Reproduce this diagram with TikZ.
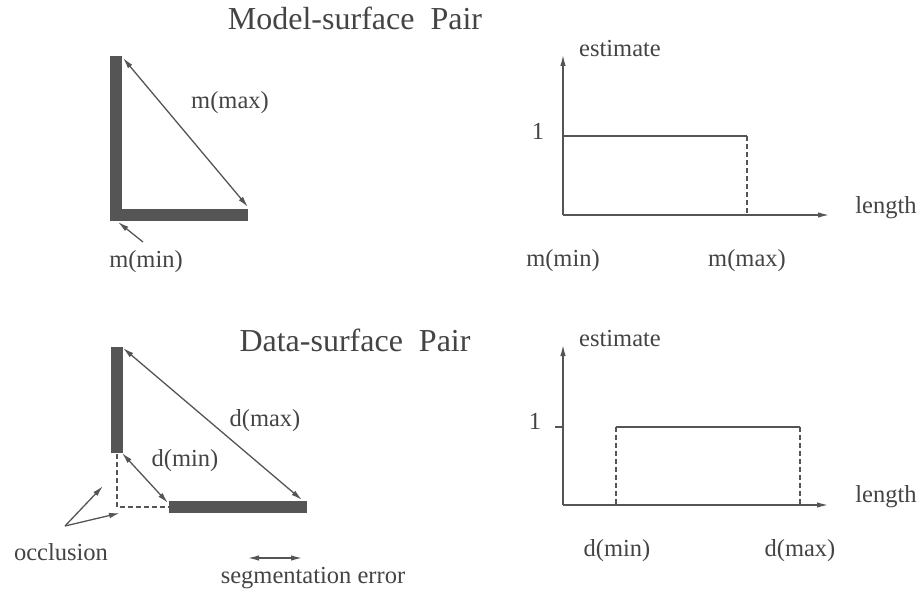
\documentclass[tikz,border=0pt]{standalone}
\usepackage{fontspec}
\setmainfont{Liberation Serif}
\usetikzlibrary{arrows.meta}
\definecolor{ink}{HTML}{555555}
\definecolor{txt}{HTML}{444444}
\tikzset{
  lbl/.style={inner sep=0pt, text=txt, font=\fontsize{24.5}{26}\selectfont},
  ttl/.style={inner sep=0pt, text=txt, font=\fontsize{32}{34}\selectfont},
  bar/.style={fill=ink, draw=none},
  thin/.style={draw=ink, line width=1.3pt},
  dsh/.style={draw=ink, line width=1.2pt, dash pattern=on 5pt off 3pt},
  arr/.style={thin, -{Latex[length=11pt,width=5.5pt]}},
  darr/.style={thin, {Latex[length=11pt,width=5.5pt]}-{Latex[length=11pt,width=5.5pt]}}
}
\begin{document}
\begin{tikzpicture}[x=1pt,y=-1pt]
\useasboundingbox (0,0) rectangle (924,594);

% ---------- Titles ----------
\node[ttl] (t1) at (355,18) {Model-surface\ \ Pair};
\node[ttl] (t2) at (355,340) {Data-surface\ \ Pair};

% ---------- Top-left: model surfaces ----------
\fill[bar] (110,56) rectangle (122,221);
\fill[bar] (110,209) rectangle (248,221);
\coordinate (mtop) at (123,58);
\coordinate (mend) at (248,207);
\draw[darr] (mtop) -- (mend);
\node[lbl] (mmax) at (230,103) {m(max)};
\coordinate (mcorner) at (118,222);
\coordinate (mminstart) at (143,242);
\draw[arr] (mminstart) -- (mcorner);
\node[lbl] (mmin) at (146,262) {m(min)};

% ---------- Top-right: model plot ----------
\coordinate (o1) at (563,215);
\coordinate (y1) at (563,55);
\coordinate (x1) at (829,215);
\draw[arr] (o1) -- (y1);
\draw[arr] (o1) -- (x1);
\coordinate (a1) at (563,136);
\coordinate (b1) at (747,136);
\coordinate (c1) at (747,215);
\draw[thin] (a1) -- (b1);
\draw[dsh] (b1) -- (c1);
\node[lbl] (one1) at (538,131) {1};
\node[lbl] (est1) at (620,49) {estimate};
\node[lbl] (len1) at (886,208) {length};
\node[lbl] (pmmin) at (563,261) {m(min)};
\node[lbl] (pmmax) at (747,261) {m(max)};

% ---------- Bottom-left: data surfaces ----------
\fill[bar] (111,347) rectangle (123,453);
\fill[bar] (169,501) rectangle (307,513);
\coordinate (dtop) at (123,348);
\coordinate (dend) at (302,500);
\draw[darr] (dtop) -- (dend);
\coordinate (dvb) at (122,453);
\coordinate (dhl) at (168,503);
\draw[darr] (dvb) -- (dhl);
\coordinate (occ) at (117,507);
\draw[dsh] (117,454) -- (occ) -- (169,507);
\node[lbl] (dmax) at (265,421) {d(max)};
\node[lbl] (dmin) at (185,461) {d(min)};
\coordinate (ostart) at (65,526);
\coordinate (otip1) at (103,486);
\coordinate (otip2) at (120,513);
\draw[arr] (ostart) -- (otip1);
\draw[arr] (ostart) -- (otip2);
\node[lbl] (occl) at (61,552) {occlusion};
\coordinate (se1) at (248,558);
\coordinate (se2) at (302,558);
\draw[darr] (se1) -- (se2);
\node[lbl] (seg) at (313,578) {segmentation error};

% ---------- Bottom-right: data plot ----------
\coordinate (o2) at (563,505);
\coordinate (y2) at (563,345);
\coordinate (x2) at (828,505);
\draw[arr] (o2) -- (y2);
\draw[arr] (o2) -- (x2);
\coordinate (tk) at (555,427);
\coordinate (tk2) at (563,427);
\draw[thin] (tk) -- (tk2);
\coordinate (a2) at (616,427);
\coordinate (b2) at (800,427);
\draw[thin] (a2) -- (b2);
\draw[dsh] (a2) -- (616,505);
\draw[dsh] (b2) -- (800,505);
\node[lbl] (one2) at (535,421) {1};
\node[lbl] (est2) at (620,339) {estimate};
\node[lbl] (len2) at (886,497) {length};
\node[lbl] (pdmin) at (617,551) {d(min)};
\node[lbl] (pdmax) at (800,551) {d(max)};
\end{tikzpicture}
\end{document}
